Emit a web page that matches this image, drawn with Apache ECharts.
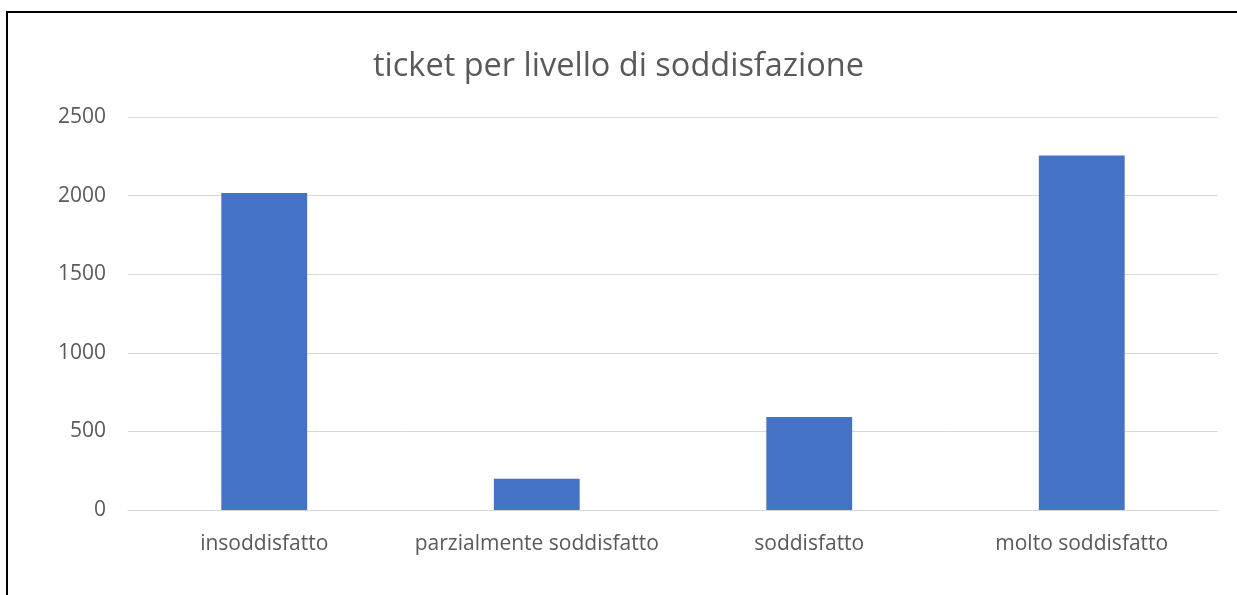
<!DOCTYPE html>
<html>
<head>
<meta charset="utf-8">
<script src="https://cdn.jsdelivr.net/npm/echarts@6/dist/echarts.min.js"></script>
<style>
html,body{margin:0;padding:0;background:#fff;}
#c{width:1237px;height:595px;}
</style>
</head>
<body>
<div id="c"></div>
<script>
const title = "ticket per livello di soddisfazione";
const categories = ["insoddisfatto", "parzialmente soddisfatto", "soddisfatto", "molto soddisfatto"];
const values = [2017, 198, 591, 2255];
const yTicks = [0, 500, 1000, 1500, 2000, 2500];

const chart = echarts.init(document.getElementById('c'), null, {renderer: 'canvas'});
chart.setOption({
  animation: false,
  backgroundColor: '#ffffff',
  title: {
    text: title,
    left: 'center',
    top: 45,
    textStyle: {fontFamily: 'Open Sans', fontSize: 32.5, fontWeight: 'normal', color: '#595959'}
  },
  graphic: [{
    type: 'rect',
    shape: {x: 7, y: 12, width: 1400, height: 800},
    style: {fill: 'none', stroke: '#000', lineWidth: 2},
    silent: true
  }],
  grid: {left: 128, right: 19, top: 117, bottom: 85},
  xAxis: {
    type: 'category',
    data: categories,
    axisLine: {show: true, lineStyle: {color: '#d9d9d9', width: 1}},
    axisTick: {show: false},
    axisLabel: {fontFamily: 'Open Sans', fontSize: 21, color: '#595959', margin: 24, interval: 0}
  },
  yAxis: {
    type: 'value',
    min: yTicks[0],
    max: yTicks[yTicks.length - 1],
    interval: 500,
    axisLine: {show: false},
    axisTick: {show: false},
    splitLine: {lineStyle: {color: '#d9d9d9', width: 1}},
    axisLabel: {fontFamily: 'Open Sans', fontSize: 21, color: '#595959', margin: 22, formatter: v => String(v)}
  },
  series: [{
    type: 'bar',
    data: values,
    barWidth: '31.5%',
    itemStyle: {color: '#4472c4'}
  }]
});
</script>
</body>
</html>
